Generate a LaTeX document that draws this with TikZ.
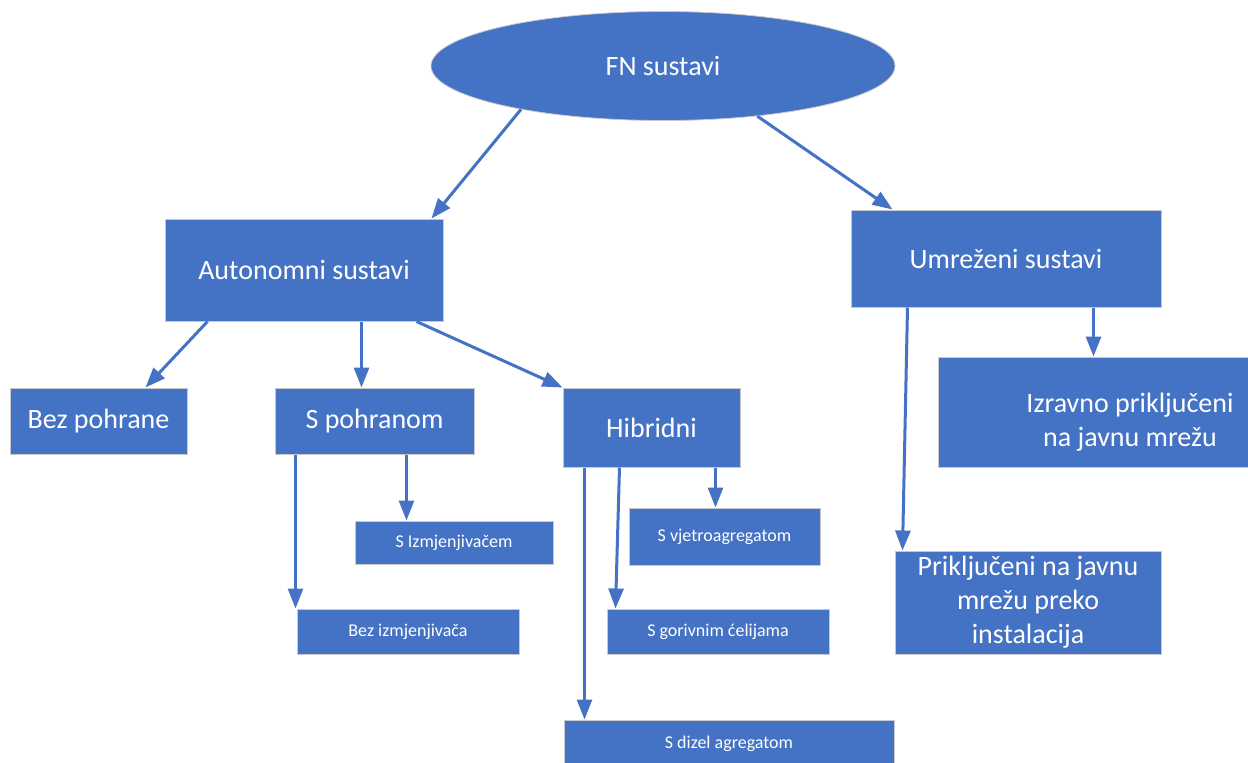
\documentclass[tikz,border=0pt]{standalone}
\usepackage{fontspec}
\setmainfont{Carlito}
\usetikzlibrary{arrows.meta,shapes.geometric}
\definecolor{blu}{HTML}{4472C4}
\definecolor{edge}{HTML}{C9C9C9}
\tikzset{
  box/.style={rectangle, fill=blu, draw=edge, line width=1pt, text=white, inner sep=0pt, align=center},
  big/.style={font=\fontsize{28}{34}\selectfont},
  small/.style={font=\fontsize{18}{22}\selectfont},
  arr/.style={draw=blu, line width=3pt, -{Triangle[length=20pt,width=15pt]}},
}
\begin{document}
\begin{tikzpicture}[x=1pt,y=-1pt]
\clip (0,0) rectangle (1248,763);
\fill[white] (0,0) rectangle (1248,763);
% nodes
\node[ellipse, fill=blu, draw=edge, line width=0.8pt, text=white, big, inner sep=0pt, minimum width=464pt, minimum height=109pt] (fn) at (663,66) {FN sustavi};
\node[box, big, minimum width=278pt, minimum height=102pt] (auto) at (304,270) {Autonomni sustavi};
\node[box, big, minimum width=310pt, minimum height=97pt] (umr) at (1006,258.5) {Umreženi sustavi};
\node[box, big, minimum width=177pt, minimum height=66pt] (bez) at (98.5,421) {Bez pohrane};
\node[box, big, minimum width=199pt, minimum height=66pt] (spo) at (374.5,421) {S pohranom};
\node[box, big, minimum width=177pt, minimum height=79pt] (hib) at (651.5,427.5) {Hibridni};
\node[box, small, minimum width=198pt, minimum height=43pt] (sizm) at (454,542.5) {S Izmjenjivačem};
\node[box, small, minimum width=191pt, minimum height=57pt] (vje) at (724.5,536.5) {S vjetroagregatom};
\node[box, small, minimum width=222pt, minimum height=45pt] (bezizm) at (408,631.5) {Bez izmjenjivača};
\node[box, small, minimum width=222pt, minimum height=45pt] (gor) at (718,631.5) {S gorivnim ćelijama};
\node[box, small, minimum width=330pt, minimum height=48pt] (dizel) at (729,744) {S dizel agregatom};
\node[box, big, minimum width=384pt, minimum height=110pt] (izr) at (1130,412) {};
\node[text=white, big, align=center, inner sep=0pt] (izrt) at (1130,422) {Izravno priključeni\\na javnu mrežu};
\node[box, big, minimum width=266pt, minimum height=103pt] (prik) at (1028,602.5) {Priključeni na javnu\\mrežu preko\\instalacija};
% connectors
\draw[arr] (fn.197) -- ([xshift=267pt]auto.north west);
\draw[arr] (fn.332) -- ([xshift=42pt]umr.north west);
\draw[arr] ([xshift=43pt]auto.south west) -- ([xshift=136pt]bez.north west);
\draw[arr] ([xshift=197pt]auto.south west) -- ([xshift=87pt]spo.north west);
\draw[arr] ([xshift=252pt]auto.south west) -- (hib.north west);
\draw[arr] ([xshift=21pt]spo.south west) -- ([xshift=-1pt]bezizm.north west);
\draw[arr] ([xshift=132pt]spo.south west) -- ([xshift=52pt]sizm.north west);
\draw[arr] ([xshift=22pt]hib.south west) -- ([xshift=21pt]dizel.north west);
\draw[arr] ([xshift=57pt]hib.south west) -- ([xshift=9pt]gor.north west);
\draw[arr] ([xshift=153pt]hib.south west) -- ([xshift=87pt]vje.north west);
\draw[arr] ([xshift=57pt]umr.south west) -- ([xshift=8pt]prik.north west);
\draw[arr] ([xshift=243pt]umr.south west) -- ([xshift=156pt]izr.north west);
\end{tikzpicture}
\end{document}
